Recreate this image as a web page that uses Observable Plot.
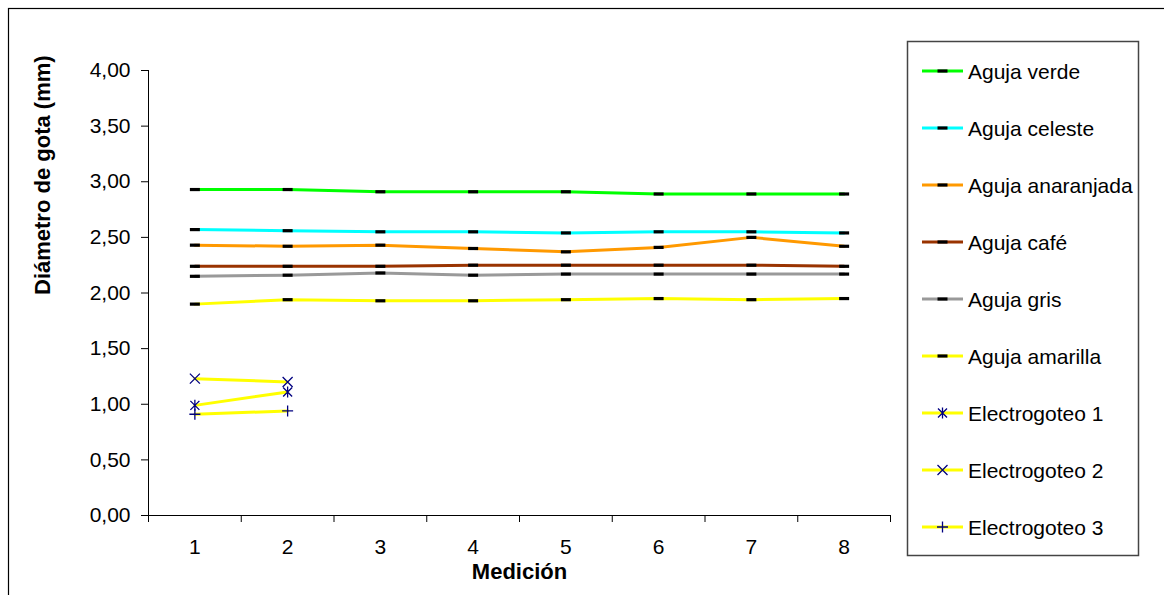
<!DOCTYPE html>
<html>
<head>
<meta charset="utf-8">
<script src="https://cdn.jsdelivr.net/npm/d3@7"></script>
<script src="https://cdn.jsdelivr.net/npm/@observablehq/plot@0.6"></script>
<style>
  html, body { margin: 0; padding: 0; background: #fff; }
  #chart { position: relative; width: 1164px; height: 595px; overflow: hidden; }
</style>
</head>
<body>
<div id="chart"></div>
<script>
// ---- data ----
const medicion = [1, 2, 3, 4, 5, 6, 7, 8];
const agujaNames = ["Aguja verde", "Aguja celeste", "Aguja anaranjada", "Aguja café", "Aguja gris", "Aguja amarilla"];
const agujaColors = ["#00FF00", "#00FFFF", "#FF9900", "#993300", "#999999", "#FFFF00"];
const verde      = [2.93, 2.93, 2.91, 2.91, 2.91, 2.89, 2.89, 2.89];
const celeste    = [2.57, 2.56, 2.55, 2.55, 2.54, 2.55, 2.55, 2.54];
const anaranjada = [2.43, 2.42, 2.43, 2.40, 2.37, 2.41, 2.50, 2.42];
const cafe       = [2.24, 2.24, 2.24, 2.25, 2.25, 2.25, 2.25, 2.24];
const gris       = [2.15, 2.16, 2.18, 2.16, 2.17, 2.17, 2.17, 2.17];
const amarilla   = [1.90, 1.94, 1.93, 1.93, 1.94, 1.95, 1.94, 1.95];
const electroNames = ["Electrogoteo 1", "Electrogoteo 2", "Electrogoteo 3"];
const electroMedicion = [1, 2];
const electro1 = [0.99, 1.11];
const electro2 = [1.23, 1.20];
const electro3 = [0.91, 0.94];
const yTicks = [0, 0.5, 1, 1.5, 2, 2.5, 3, 3.5, 4];
const xBoundaries = [0.5, 1.5, 2.5, 3.5, 4.5, 5.5, 6.5, 7.5, 8.5];

// ---- tables ----
const agujaSeries = [verde, celeste, anaranjada, cafe, gris, amarilla];
const aguja = agujaSeries.flatMap((vals, i) => vals.map((v, j) => ({s: agujaNames[i], m: medicion[j], v})));
const electroSeries = [electro1, electro2, electro3];
const electro = electroSeries.flatMap((vals, i) => vals.map((v, j) => ({s: electroNames[i], m: electroMedicion[j], v, k: i})));

// ---- symbols ----
const dashSym = {draw(c) { c.moveTo(-5, -1.6); c.lineTo(5, -1.6); c.lineTo(5, 1.6); c.lineTo(-5, 1.6); c.closePath(); }};
const starSym = {draw(c) { c.moveTo(-4.5, -4.5); c.lineTo(4.5, 4.5); c.moveTo(-4.5, 4.5); c.lineTo(4.5, -4.5); c.moveTo(0, -5.5); c.lineTo(0, 5.5); }};
const timesSym = {draw(c) { c.moveTo(-5, -5); c.lineTo(5, 5); c.moveTo(-5, 5); c.lineTo(5, -5); }};
const plusSym = {draw(c) { c.moveTo(-5.5, 0); c.lineTo(5.5, 0); c.moveTo(0, -5.5); c.lineTo(0, 5.5); }};
const electroSyms = [starSym, timesSym, plusSym];

const fmt = d => d.toFixed(2).replace(".", ",");
const FONT = "'Liberation Sans', Arial, sans-serif";

const chart = Plot.plot({
  width: 1164,
  height: 595,
  marginLeft: 148,
  marginRight: 274,
  marginTop: 70,
  marginBottom: 80,
  style: {fontFamily: FONT, fontSize: "21px", color: "#000", background: "#fff", overflow: "visible"},
  x: {type: "linear", domain: [0.5, 8.5]},
  y: {domain: [0, 4]},
  color: {domain: agujaNames, range: agujaColors},
  marks: [
    Plot.ruleY([0], {stroke: "#000", strokeWidth: 1}),
    Plot.ruleX([0.5], {stroke: "#000", strokeWidth: 1}),
    Plot.axisY({ticks: yTicks, tickFormat: fmt, tickSize: 7, tickPadding: 11, fontSize: 21, label: null, stroke: "#000", strokeOpacity: 1}),
    Plot.axisX({ticks: xBoundaries, tickFormat: () => "", tickSize: 7, label: null, stroke: "#000", strokeOpacity: 1}),
    Plot.axisX({ticks: medicion, tickSize: 0, tickPadding: 24, fontSize: 21, label: null}),
    Plot.text(["Medición"], {frameAnchor: "bottom", dy: 63, fontWeight: "bold", fontSize: 22}),
    Plot.text(["Diámetro de gota (mm)"], {frameAnchor: "left", dx: -106, dy: 2, rotate: -90, fontWeight: "bold", fontSize: 22}),
    Plot.line(aguja, {x: "m", y: "v", z: "s", stroke: "s", strokeWidth: 3}),
    Plot.dot(aguja, {x: "m", y: "v", symbol: dashSym, fill: "#000", stroke: "none"}),
    Plot.line(electro, {x: "m", y: "v", z: "s", stroke: "#FFFF00", strokeWidth: 3}),
    ...electroSyms.map((sym, i) => Plot.dot(electro.filter(d => d.k === i), {x: "m", y: "v", symbol: sym, fill: "none", stroke: "#000080", strokeWidth: 1.3}))
  ]
});
document.getElementById("chart").appendChild(chart);

// ---- frame & legend ----
const svg = d3.select(chart);
svg.append("rect").attr("x", 8.5).attr("y", 8.5).attr("width", 1170).attr("height", 620)
  .attr("fill", "none").attr("stroke", "#000").attr("stroke-width", 1.2);
const lg = svg.append("g").attr("text-anchor", "start");
lg.append("rect").attr("x", 907.5).attr("y", 41.5).attr("width", 231).attr("height", 514)
  .attr("fill", "none").attr("stroke", "#444").attr("stroke-width", 1.5);
const legendItems = [
  ...agujaNames.map((n, i) => ({name: n, color: agujaColors[i], sym: dashSym, fill: "#000", stroke: "none"})),
  ...electroNames.map((n, i) => ({name: n, color: "#FFFF00", sym: electroSyms[i], fill: "none", stroke: "#000080"}))
];
legendItems.forEach((it, i) => {
  const y = 71 + i * 57;
  const g = lg.append("g").attr("transform", `translate(0,${y})`);
  g.append("line").attr("x1", 922).attr("x2", 963).attr("y1", 0).attr("y2", 0)
    .attr("stroke", it.color).attr("stroke-width", 3);
  const p = d3.path(); it.sym.draw(p);
  g.append("path").attr("d", p.toString()).attr("transform", "translate(942.5,0)")
    .attr("fill", it.fill).attr("stroke", it.stroke).attr("stroke-width", 1.3);
  g.append("text").attr("x", 968).attr("y", 0).attr("dy", "0.36em").attr("text-anchor", "start")
    .attr("font-family", FONT).attr("font-size", 21).attr("fill", "#000").text(it.name);
});
</script>
</body>
</html>
